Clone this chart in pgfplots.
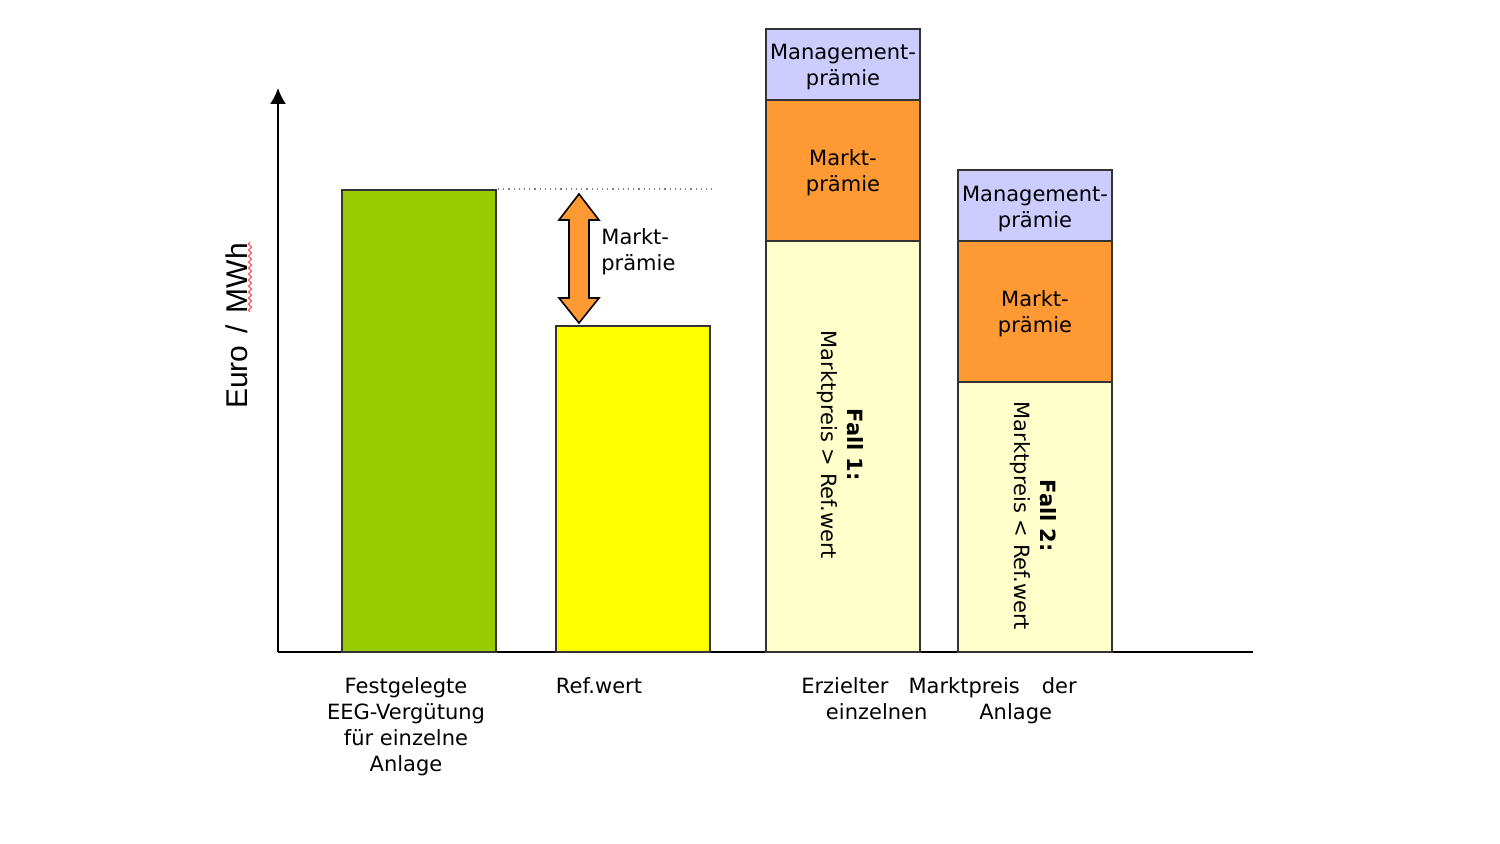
\documentclass[border=0pt]{standalone}
\usepackage{fontspec}
\setmainfont{DejaVu Sans}
\newfontfamily\arialfont{Liberation Sans}
\usepackage{pgfplots}
\pgfplotsset{compat=1.18}
\usetikzlibrary{arrows.meta,decorations.pathmorphing}

\definecolor{eeggreen}{HTML}{99CC00}
\definecolor{refyellow}{HTML}{FFFF00}
\definecolor{cream}{HTML}{FFFFCC}
\definecolor{mporange}{HTML}{FF9933}
\definecolor{lavender}{HTML}{CCCCFF}
\definecolor{border}{HTML}{333333}

\begin{document}
\begin{tikzpicture}[x=0.5pt,y=0.5pt, font=\fontsize{10.5}{13}\selectfont]
\begin{axis}[
    scale only axis,
    width=487.5pt, height=282pt,
    xmin=278, xmax=1253, ymin=0, ymax=564,
    enlargelimits=false,
    axis lines=left,
    x axis line style={-, line width=0.9pt},
    y axis line style={-{Latex[length=8pt,width=8pt]}, line width=0.9pt},
    xtick=\empty, ytick=\empty,
    clip=false,
    ybar stacked,
    bar width=154,
    every axis plot/.append style={draw=border, line width=0.7pt},
]
% bar heights in pixels above the baseline
\addplot[fill=eeggreen] coordinates {(419,462) (633,0) (843,0) (1035,0)};
\addplot[fill=refyellow] coordinates {(419,0) (633,326) (843,0) (1035,0)};
\addplot[fill=cream] coordinates {(419,0) (633,0) (843,411) (1035,270)};
\addplot[fill=mporange] coordinates {(419,0) (633,0) (843,141) (1035,141)};
\addplot[fill=lavender] coordinates {(419,0) (633,0) (843,71) (1035,71)};

% reference line and market premium arrow
\draw[gray, dotted, line width=0.6pt] (axis cs:498,463) -- (axis cs:716,463);
\draw[fill=mporange, draw=black, line width=0.8pt]
    (axis cs:579,458) -- (axis cs:599,432) -- (axis cs:589,432) -- (axis cs:589,354)
    -- (axis cs:599,354) -- (axis cs:579,329) -- (axis cs:559,354) -- (axis cs:569,354)
    -- (axis cs:569,432) -- (axis cs:559,432) -- cycle;
\node[anchor=west, align=left, inner sep=0] at (axis cs:601,400) {Markt-\\prämie};

% anchors for the labels drawn over the bars
\coordinate (mgmtA) at (axis cs:843,585);
\coordinate (mpA)   at (axis cs:843,479);
\coordinate (mgmtB) at (axis cs:1035,443);
\coordinate (mpB)   at (axis cs:1035,338);
\coordinate (fallA) at (axis cs:840,207);
\coordinate (fallB) at (axis cs:1033,136);

% category labels
\node[align=center, anchor=north, inner sep=0] at (axis cs:406,-25)
    {Festgelegte\\EEG-Vergütung\\für einzelne\\Anlage};
\node[anchor=north, inner sep=0] at (axis cs:599,-25) {Ref.wert};
\node[align=center, anchor=north, inner sep=0] at (axis cs:939,-25)
    {Erzielter\hspace{10pt}Marktpreis\hspace{11pt}der\\einzelnen\hspace{26pt}Anlage};

% y label
\node[rotate=90, font=\arialfont\fontsize{15}{17}\selectfont] at (axis cs:237,326)
    {Euro\hspace{6pt}/\hspace{6pt}MWh};
\draw[red!70, line width=0.5pt, decorate, decoration={snake, amplitude=0.8pt, segment length=3pt}]
    (axis cs:250,340) -- (axis cs:250,410);

\coordinate (bbsw) at (axis cs:0,-192);
\coordinate (bbne) at (axis cs:1500,652);
\end{axis}
\node[align=center] at (mgmtA) {Management-\\prämie};
\node[align=center] at (mpA) {Markt-\\prämie};
\node[align=center] at (mgmtB) {Management-\\prämie};
\node[align=center] at (mpB) {Markt-\\prämie};
\node[align=center, rotate=-90] at (fallA) {\textbf{Fall 1:}\\Marktpreis > Ref.wert};
\node[align=center, rotate=-90] at (fallB) {\textbf{Fall 2:}\\Marktpreis < Ref.wert};
\path (bbsw) rectangle (bbne);
\end{tikzpicture}
\end{document}
